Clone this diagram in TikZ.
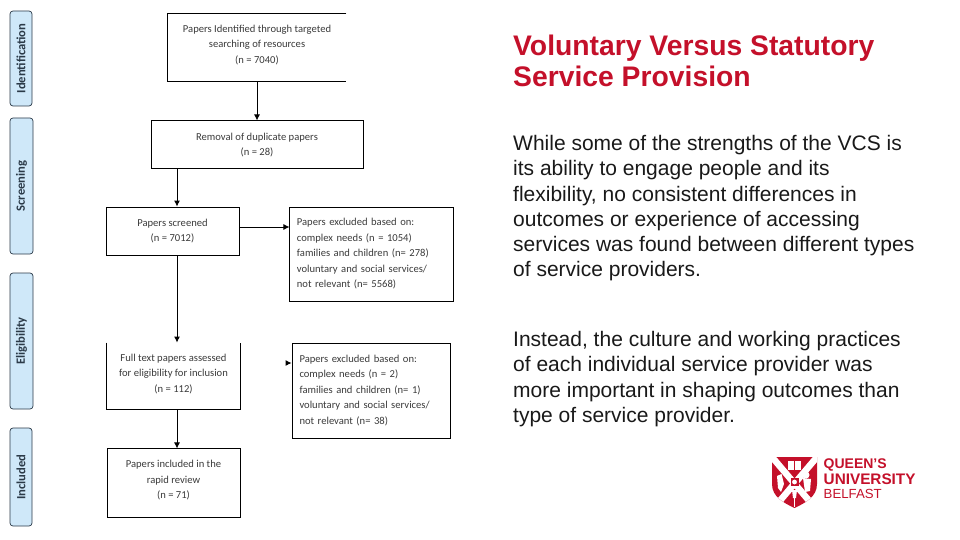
\documentclass[tikz,border=0pt]{standalone}
\usepackage{fontspec}
\setmainfont{Liberation Sans}
\newfontfamily\boxfont{Carlito}
\usetikzlibrary{arrows.meta,positioning,calc}
\definecolor{QubRed}{HTML}{C4102A}
\definecolor{TabBlue}{HTML}{CFE8F9}
\definecolor{TabEdge}{HTML}{2B3A48}
\definecolor{BoxText}{HTML}{3A3A3A}
\newcommand{\tailgap}[1]{\rule[-#1]{0pt}{#1}}

\begin{document}
\begin{tikzpicture}[
  x=1pt,y=-1pt,
  block/.style={
    draw=black,
    line width=0.9pt,
    inner sep=0pt,
    align=center,
    text=BoxText,
    font=\boxfont\fontsize{10.6}{15.5}\selectfont
  },
  openblock/.style={block,draw=none},
  listblock/.style={block,align=left},
  tab/.style={
    draw=TabEdge,
    fill=TabBlue,
    line width=0.7pt,
    rounded corners=3pt,
    rotate=90,
    inner sep=0pt,
    text=TabEdge,
    font=\boxfont\bfseries\fontsize{12.6}{14}\selectfont
  },
  arrow/.style={-{Latex[length=6pt,width=6pt]},line width=0.9pt,color=black},
  slidetext/.style={anchor=north west,inner sep=0pt,align=left,text=black!90,
    font=\fontsize{21}{25.3}\selectfont},
  logotext/.style={anchor=west,inner sep=0pt,text=QubRed}
]
\useasboundingbox (0,0) rectangle (960,540);

% stage tabs
\node[tab,minimum width=95pt,minimum height=22pt] (identification) at (21,58.5) {\raisebox{-1pt}{Identification}};
\node[tab,minimum width=136pt,minimum height=23pt] (screening) at (21.5,186) {\raisebox{-1pt}{Screening}};
\node[tab,minimum width=136pt,minimum height=23pt] (eligibility) at (21.5,341) {\raisebox{-1pt}{Eligibility}};
\node[tab,minimum width=98pt,minimum height=22pt] (included) at (21,477) {\raisebox{-1pt}{Included}};

% flow boxes
\node[openblock,minimum width=178pt,minimum height=67pt] (identified) at (257,47.5)
  {Papers Identified through targeted\\searching of resources\\(n = 7040)\tailgap{7pt}};
\node[block,minimum width=212pt,minimum height=48pt,below=39pt of identified] (removal)
  {Removal of duplicate papers\\(n = 28)};
\node[block,minimum width=133pt,minimum height=48pt] (screened) at (172.5,231)
  {Papers screened\\(n = 7012)};
\node[listblock,minimum width=164pt,minimum height=94pt,text width=150pt,right=50pt of screened.north east,anchor=north west] (excluded)
  {Papers excluded based on:\\complex needs (n = 1054)\\families and children (n= 278)\\voluntary and social services/\\not relevant (n= 5568)};
\node[openblock,minimum width=133pt,minimum height=66pt] (fulltext) at (173.5,376)
  {Full text papers assessed\\for eligibility for inclusion\\(n = 112)\tailgap{6pt}};
\node[listblock,minimum width=158pt,minimum height=95pt,text width=143pt] (excludedfull) at (371,390.5)
  {Papers excluded based on:\\complex needs (n = 2)\\families and children (n= 1)\\voluntary and social services/\\not relevant (n= 38)};
\node[block,minimum width=133pt,minimum height=69pt,below=39pt of fulltext] (review)
  {Papers included in the\\rapid review\\(n = 71)\tailgap{8pt}};

% open edges of the two cropped boxes
\draw[line width=0.9pt] (identified.north east) -- (identified.north west) -- (identified.south west) -- (identified.south east);
\draw[line width=0.9pt] (fulltext.north west) -- (fulltext.south west) -- (fulltext.south east) -- (fulltext.north east);

\coordinate (flow) at (177,0);
\coordinate (stub) at (286,363);
\draw[arrow] (identified) -- (removal);
\draw[arrow] (removal.south -| flow) -- (screened.north -| flow);
\draw[arrow] (screened.south -| flow) -- (fulltext.north -| flow);
\draw[arrow] (fulltext.south -| flow) -- (review.north -| flow);
\draw[arrow] (screened.east |- 0,227) -- (excluded.west |- 0,227);
\draw[arrow] (stub) -- (excludedfull.west |- stub);

% slide text
\node[anchor=north west,inner sep=0pt,align=left,text=QubRed,font=\bfseries\fontsize{28.3}{31}\selectfont] (title) at (513,35)
  {Voluntary Versus Statutory\\Service Provision};
\node[slidetext] (para1) at (513,135)
  {While some of the strengths of the VCS is\\its ability to engage people and its\\flexibility, no consistent differences in\\outcomes or experience of accessing\\services was found between different types\\of service providers.};
\node[slidetext] (para2) at (513,331)
  {Instead, the culture and working practices\\of each individual service provider was\\more important in shaping outcomes than\\type of service provider.};

% logo
\fill[QubRed] (772,457) -- (817,457) -- (817,484) .. controls (817,497) and (805,503) .. (794.5,508) .. controls (784,503) and (772,497) .. (772,484) -- cycle;
\begin{scope}
  \clip (772,457) -- (817,457) -- (817,484) .. controls (817,497) and (805,503) .. (794.5,508) .. controls (784,503) and (772,497) .. (772,484) -- cycle;
  \draw[white,line width=6.5pt] (772,457) -- (811,503);
  \draw[white,line width=6.5pt] (817,457) -- (778,503);
\end{scope}
\draw[white,line width=1.2pt] (794.5,496) -- (794.5,507);
\fill[white] (788,460.5) rectangle (801,469.5);
\draw[QubRed,line width=0.6pt] (794.5,460.5) -- (794.5,469.5);
\fill[QubRed] (790.5,478) rectangle (798.5,486);
\fill[white] (794.5,482) circle (2.4pt);
\fill[white] (777,476) -- (781.5,474) -- (784,484) -- (781,492) -- (778,488) -- cycle;
\fill[white] (806,475) circle (3.5pt);
\fill[white] (803,478) -- (811,479) -- (810,491) -- (805,492) -- cycle;
\fill[white] (792,490) -- (797,490) -- (796,498) -- (793,498) -- cycle;

\node[logotext,font=\bfseries\fontsize{14}{14}\selectfont] (queens) at (823.5,465) {QUEEN'S};
\node[logotext,font=\bfseries\fontsize{15.3}{15}\selectfont] (university) at (823.5,479.5) {UNIVERSITY};
\node[logotext,font=\fontsize{13.2}{15}\selectfont] (belfast) at (823.5,494) {BELFAST};
\end{tikzpicture}
\end{document}
